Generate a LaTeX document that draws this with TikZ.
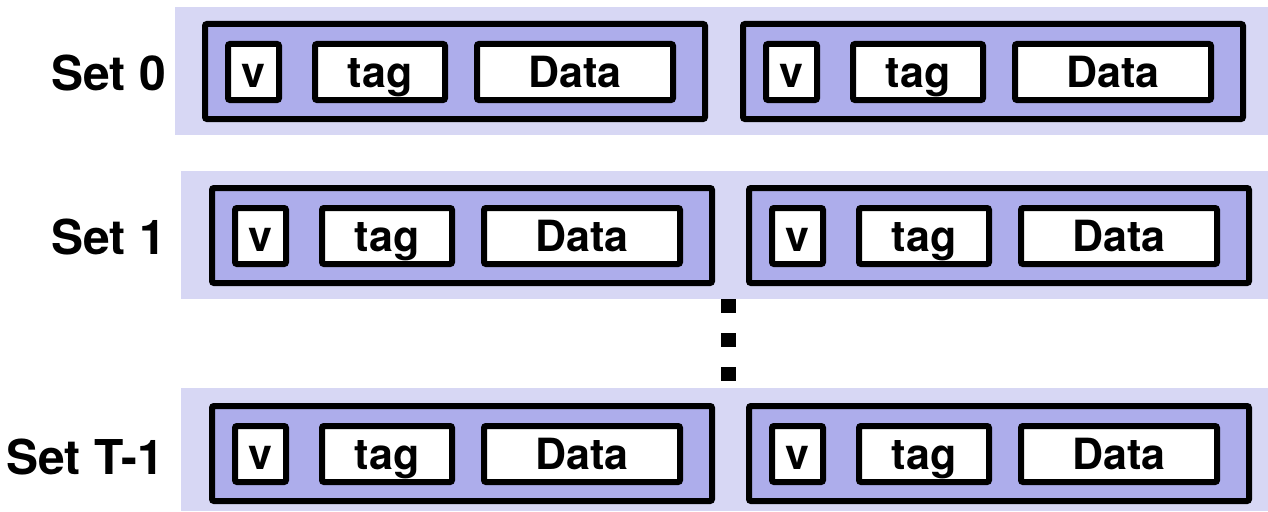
\documentclass[tikz,border=0pt]{standalone}
\usepackage{fontspec}
\setmainfont{TeX Gyre Heros}
\usepackage{xcolor}
\definecolor{SetBand}{HTML}{D7D7F4}
\definecolor{WayFill}{HTML}{ADADEB}
\tikzset{
  setband/.style={fill=SetBand, draw=none},
  waybox/.style={draw=black, fill=WayFill, line width=6pt, rounded corners=2pt,
    minimum width=500pt, minimum height=95pt, inner sep=0pt, outer sep=0pt, anchor=north west},
  fieldbox/.style={draw=black, fill=white, line width=6pt, rounded corners=2pt,
    minimum height=56pt, inner sep=0pt, outer sep=0pt, anchor=north west,
    text height=31pt, text depth=0pt,
    font=\fontsize{43}{50}\selectfont\bfseries},
  setlabel/.style={anchor=east, inner sep=0pt, text height=34.5pt, text depth=0pt,
    font=\fontsize{48}{56}\selectfont\bfseries}
}
\newcommand{\cacheway}[3]{% name, x, y (top left of the way box)
  \node[waybox] (#1) at (#2,#3) {};
  \node[fieldbox, minimum width=51pt] (#1-v) at ({#2+23},{#3+20}) {v};
  \node[fieldbox, minimum width=130pt] (#1-tag) at ({#2+110},{#3+20}) {tag};
  \node[fieldbox, minimum width=196pt] (#1-data) at ({#2+272},{#3+20}) {Data};
}

\begin{document}
\begin{tikzpicture}[x=1pt, y=-1pt]
\useasboundingbox (0,0) rectangle (1268,511);

% Light bands, one per set
\fill[setband] (175,7) rectangle (1268,135);
\fill[setband] (181,171) rectangle (1268,299);
\fill[setband] (181,388) rectangle (1268,511);

% Set labels
\node[setlabel] (set0) at (166,73) {Set 0};
\node[setlabel] (set1) at (166,237) {Set 1};
\node[setlabel] (setT) at (164,457) {Set T-1};

% Two ways per set
\cacheway{s0a}{205}{24}
\cacheway{s0b}{743}{24}
\cacheway{s1a}{212}{188}
\cacheway{s1b}{749}{188}
\cacheway{sTa}{212}{406}
\cacheway{sTb}{749}{406}

% Vertical dots between Set 1 and Set T-1
\foreach \y in {306,340,374}
  \fill[black] (721,\y-7) rectangle (736,\y+7);

\end{tikzpicture}
\end{document}
